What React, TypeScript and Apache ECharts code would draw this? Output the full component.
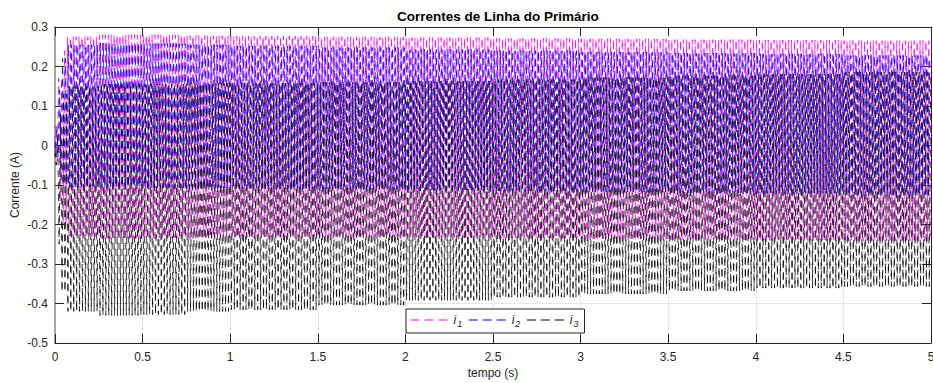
import React, { useEffect, useRef } from "react";
import * as echarts from "echarts";

// Envelope sample times (s)
const TIME_ENV = [0, 0.02, 0.04, 0.07, 0.25, 0.5, 0.75, 1.0, 1.5, 2.0, 2.5, 3.0, 3.5, 4.0, 4.5, 5.0];
// i1 (magenta) peaks / troughs
const I1_MAX = [0.05, 0.17, 0.24, 0.275, 0.28, 0.28, 0.278, 0.277, 0.275, 0.273, 0.271, 0.27, 0.268, 0.267, 0.265, 0.263];
const I1_MIN = [-0.04, -0.14, -0.2, -0.23, -0.235, -0.234, -0.233, -0.232, -0.232, -0.233, -0.234, -0.236, -0.238, -0.24, -0.242, -0.244];
// i2 (blue)
const I2_MAX = [0.05, 0.14, 0.22, 0.255, 0.259, 0.258, 0.255, 0.252, 0.248, 0.243, 0.24, 0.237, 0.234, 0.232, 0.228, 0.226];
const I2_MIN = [-0.03, -0.08, -0.1, -0.105, -0.106, -0.107, -0.108, -0.109, -0.111, -0.113, -0.116, -0.118, -0.12, -0.122, -0.124, -0.126];
// i3 (black)
const I3_MAX = [0.03, 0.08, 0.13, 0.15, 0.155, 0.156, 0.158, 0.158, 0.16, 0.163, 0.167, 0.172, 0.177, 0.181, 0.186, 0.19];
const I3_MIN = [-0.05, -0.25, -0.37, -0.42, -0.43, -0.428, -0.42, -0.416, -0.404, -0.392, -0.384, -0.376, -0.368, -0.361, -0.357, -0.355];

const FREQ_HZ = 60;
const PHASE_CYCLES = [0, 1 / 3, 2 / 3];
const SERIES_NAMES = ["i1", "i2", "i3"];
const SERIES_COLORS = ["#ff00ff", "#0000ff", "#000000"];

const X_TICKS = [0, 0.5, 1, 1.5, 2, 2.5, 3, 3.5, 4, 4.5, 5];

function envIndex(t: number): number {
  let j = 0;
  for (let i = 0; i < TIME_ENV.length; i++) if (TIME_ENV[i] <= t) j = i;
  return j;
}

// Zig-zag through the peaks and troughs, one point per half cycle
function buildSeries(maxArr: number[], minArr: number[], phase: number): number[][] {
  const pts: number[][] = [[0, (maxArr[0] + minArr[0]) / 2]];
  const tEnd = X_TICKS[X_TICKS.length - 1];
  for (let k = 0; ; k++) {
    const t = (0.25 + phase + k * 0.5 - 1) / FREQ_HZ;
    if (t <= 0) continue;
    if (t > tEnd) break;
    const j = envIndex(t);
    pts.push([t, k % 2 === 0 ? maxArr[j] : minArr[j]]);
  }
  return pts;
}

export default function App() {
  const ref = useRef<HTMLDivElement>(null);
  useEffect(() => {
    if (!ref.current) return;
    const chart = echarts.init(ref.current, undefined, { renderer: "svg" });
    const font = "'Liberation Sans', Arial, Helvetica, sans-serif";
    const dataSets = [
      buildSeries(I1_MAX, I1_MIN, PHASE_CYCLES[0]),
      buildSeries(I2_MAX, I2_MIN, PHASE_CYCLES[1]),
      buildSeries(I3_MAX, I3_MIN, PHASE_CYCLES[2]),
    ];
    const tickStyle = { inside: true, length: 9, lineStyle: { color: "#262626", width: 1 } };
    chart.setOption({
      animation: false,
      backgroundColor: "#ffffff",
      title: {
        text: "Correntes de Linha do Primário",
        left: 392,
        top: 4,
        textStyle: { fontFamily: font, fontSize: 13.5, fontWeight: "bold", color: "#000" },
      },
      grid: { left: 55, right: 2, top: 27, bottom: 40, containLabel: false, outerBoundsMode: "none" },
      legend: {
        data: SERIES_NAMES,
        left: 406,
        top: 309,
        orient: "horizontal",
        backgroundColor: "#ffffff",
        borderColor: "#262626",
        borderWidth: 1,
        borderRadius: 0,
        padding: [5, 6, 5, 4],
        itemWidth: 38,
        itemHeight: 14,
        itemGap: 6,
        selectedMode: false,
        itemStyle: { opacity: 0 },
        lineStyle: { width: 1, type: [9, 5] },
        formatter: (name: string) => `{it|i}{sub|${name.slice(1)}}`,
        textStyle: {
          fontFamily: font,
          color: "#262626",
          rich: {
            it: { fontFamily: font, fontStyle: "italic", fontSize: 12, color: "#262626" },
            sub: { fontFamily: font, fontStyle: "italic", fontSize: 9, color: "#262626", padding: [7, 0, 0, 1] },
          },
        },
      },
      xAxis: [
        {
          type: "value",
          min: 0,
          max: 5,
          interval: 0.5,
          name: "tempo (s)",
          nameLocation: "middle",
          nameGap: 24,
          nameMoveOverlap: false,
          nameTextStyle: { fontFamily: font, fontSize: 12, color: "#262626" },
          axisLine: { show: true, onZero: false, lineStyle: { color: "#262626", width: 1 } },
          axisTick: tickStyle,
          axisLabel: { fontFamily: font, fontSize: 12, color: "#262626", margin: 8 },
          splitLine: { show: true, lineStyle: { color: "#e6e6e6", width: 1 } },
        },
        {
          type: "value",
          position: "top",
          min: 0,
          max: 5,
          interval: 0.5,
          axisLine: { show: true, onZero: false, lineStyle: { color: "#262626", width: 1 } },
          axisTick: tickStyle,
          axisLabel: { show: false },
          splitLine: { show: false },
        },
      ],
      yAxis: [
        {
          type: "value",
          min: -0.5,
          max: 0.3,
          interval: 0.1,
          name: "Corrente (A)",
          nameLocation: "middle",
          nameGap: 34,
          nameMoveOverlap: false,
          nameRotate: 90,
          nameTextStyle: { fontFamily: font, fontSize: 12, color: "#262626" },
          axisLine: { show: true, onZero: false, lineStyle: { color: "#a6a6a6", width: 2 } },
          axisTick: tickStyle,
          axisLabel: {
            fontFamily: font,
            fontSize: 12,
            color: "#262626",
            margin: 7,
            formatter: (v: number) => String(Math.round(v * 10) / 10),
          },
          splitLine: { show: true, lineStyle: { color: "#e6e6e6", width: 1 } },
        },
        {
          type: "value",
          position: "right",
          min: -0.5,
          max: 0.3,
          interval: 0.1,
          axisLine: { show: true, onZero: false, lineStyle: { color: "#262626", width: 1 } },
          axisTick: tickStyle,
          axisLabel: { show: false },
          splitLine: { show: false },
        },
      ],
      series: dataSets.map((d, i) => ({
        name: SERIES_NAMES[i],
        type: "line",
        data: d,
        xAxisIndex: 0,
        yAxisIndex: 0,
        symbol: "none",
        showSymbol: false,
        silent: true,
        z: 2 + i,
        lineStyle: { color: SERIES_COLORS[i], width: 0.8, type: [7, 5] },
        itemStyle: { color: SERIES_COLORS[i] },
      })),
    });
    return () => chart.dispose();
  }, []);
  return <div ref={ref} style={{ position: "fixed", left: 0, top: 0, width: 933, height: 383 }} />;
}
